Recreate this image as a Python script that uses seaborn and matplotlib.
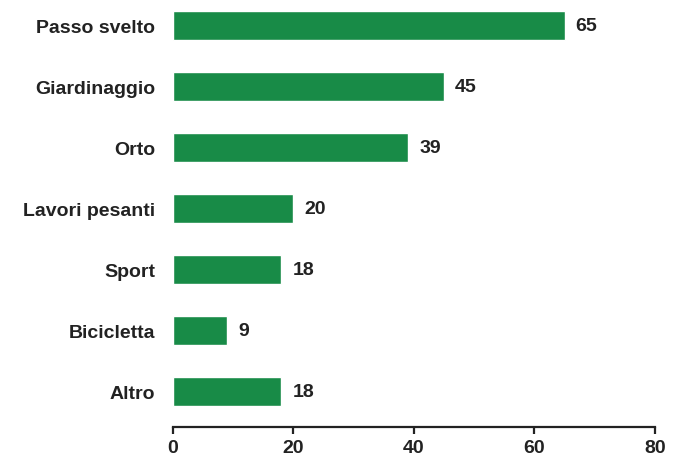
import pandas as pd
import seaborn as sns
import matplotlib.pyplot as plt

categories = ["Passo svelto", "Giardinaggio", "Orto", "Lavori pesanti", "Sport", "Bicicletta", "Altro"]
values = [65, 45, 39, 20, 18, 9, 18]

df = pd.DataFrame({"attivita": categories, "valore": values})

sns.set_style("white")
plt.rcParams['font.family'] = ['Liberation Sans', 'DejaVu Sans']

fig = plt.figure(figsize=(6.77, 4.64), dpi=100)
ax = fig.add_axes([0.2555, 0.0776, 0.712, 0.9224])
sns.barplot(data=df, y="attivita", x="valore", color="#188b47", saturation=1,
            width=0.475, ax=ax)

ax.set_xlim(0, 80)
ax.set_ylim(6.58, -0.434)
ax.set_xticks([0, 20, 40, 60, 80])
ax.set_xlabel("")
ax.set_ylabel("")

for s in ["top", "right", "left"]:
    ax.spines[s].set_visible(False)
ax.spines["bottom"].set_color("#222222")
ax.spines["bottom"].set_linewidth(1.6)

ax.tick_params(axis="x", bottom=True, direction="out", length=5, width=1.6, color="#222222",
               labelsize=14, labelcolor="#222222", pad=4)
ax.tick_params(axis="y", left=False, length=0, labelsize=14, labelcolor="#222222", pad=13)
for lab in ax.get_xticklabels() + ax.get_yticklabels():
    lab.set_fontweight("bold")

ax.bar_label(ax.containers[0], padding=8, fontsize=14, fontweight="bold", color="#222222")

plt.savefig("out.png", dpi=100)
